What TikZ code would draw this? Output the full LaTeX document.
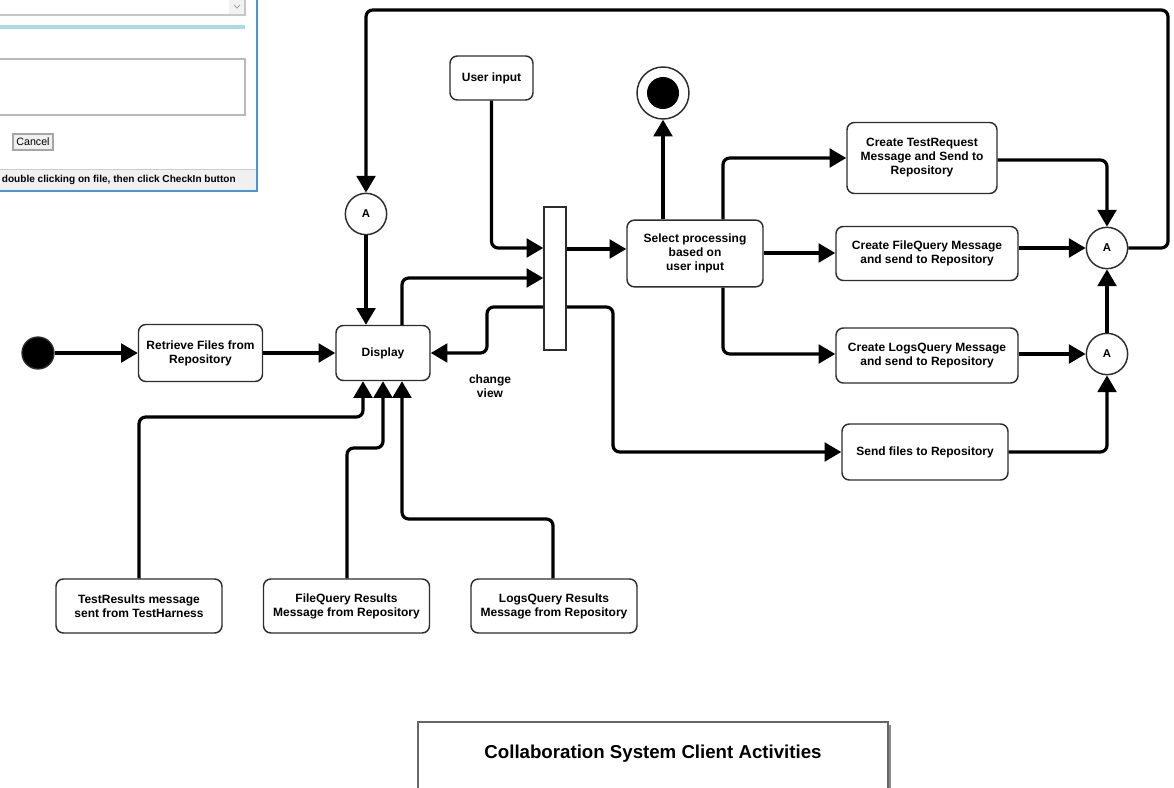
\documentclass[tikz,border=0pt]{standalone}
\usepackage{fontspec}
\setmainfont{Liberation Sans}
\usetikzlibrary{arrows.meta,calc}
\definecolor{winblue}{RGB}{70,150,215}
\definecolor{lightblue}{RGB}{173,216,230}
\definecolor{statusbg}{RGB}{240,240,240}
\definecolor{boxline}{RGB}{45,45,45}
\begin{document}
\begin{tikzpicture}[x=0.75pt,y=-0.75pt,
  box/.style={draw=boxline, line width=1.1pt, rounded corners=5.5pt, fill=white, align=center,
    font=\bfseries\fontsize{9}{10.5}\selectfont, inner sep=2pt},
  anode/.style={circle, draw=boxline, line width=1.1pt, fill=white, minimum size=31pt, inner sep=0pt,
    font=\bfseries\fontsize{8.5}{10}\selectfont},
  initn/.style={circle, draw=boxline, line width=1pt, fill=black, minimum size=24pt, inner sep=0pt},
  barn/.style={rectangle, draw=boxline, line width=1.1pt, fill=white, inner sep=0pt},
  conn/.style={line width=2.4pt, rounded corners=5pt, -{Triangle[length=12.5pt,width=14pt]}},
  lbl/.style={align=center, font=\bfseries\fontsize{9}{10.5}\selectfont}
]
\useasboundingbox (0,0) rectangle (1174,788);
\fill[white] (0,0) rectangle (1174,788);

% ---- dialog fragment (top left) ----
\fill[gray!10] (229,-2) rectangle (245,15);
\draw[gray!45, line width=0.9pt] (-3,-3) rectangle (245,15);
\draw[gray!70, line width=0.6pt] (234,5) -- (237,8) -- (240,5);
\fill[lightblue] (0,25) rectangle (245,29);
\draw[gray!55, line width=0.9pt] (-3,59) rectangle (245,115);
\draw[gray!70, line width=0.8pt, fill=gray!12] (13,134) rectangle (53,150);
\node[font=\fontsize{8}{9}\selectfont] (cancel) at (33,142) {Cancel};
\fill[statusbg] (-3,169) rectangle (257,191);
\draw[gray!40, line width=0.6pt] (-3,169) -- (257,169);
\node[anchor=east, inner sep=0pt, font=\bfseries\fontsize{7.55}{8.5}\selectfont] (status) at (236,180) {double clicking on file, then click CheckIn button};
\draw[winblue, line width=1.2pt] (-3,191) -- (257,191) -- (257,-3);

% ---- nodes ----
\node[initn] (init) at (38,353) {};
\node[box, minimum width=93pt, minimum height=42.75pt] (retr) at (200.5,353) {Retrieve Files from\\Repository};
\node[box, minimum width=70.5pt, minimum height=41.25pt] (disp) at (383,353) {Display};
\node[anode] (aL) at (366,214) {A};
\node[barn, minimum width=16.5pt, minimum height=107.25pt] (bar) at (555,278.5) {};
\node[box, minimum width=62.25pt, minimum height=33pt] (user) at (491.5,78) {User input};
\node[box, minimum width=102pt, minimum height=50pt] (sel) at (695,253.5) {Select processing\\based on\\user input};
\node[circle, draw=boxline, line width=1.1pt, fill=white, minimum size=39pt, inner sep=0pt] (final) at (663,93) {};
\node[circle, fill=black, minimum size=24pt, inner sep=0pt] (finalin) at (final.center) {};
\node[box, minimum width=112.5pt, minimum height=53.25pt] (treq) at (922,158) {Create TestRequest\\Message and Send to\\Repository};
\node[box, minimum width=136.5pt, minimum height=40.5pt] (fq) at (927,253.5) {Create FileQuery Message\\and send to Repository};
\node[box, minimum width=136.5pt, minimum height=41.25pt] (lq) at (927,355.5) {Create LogsQuery Message\\and send to Repository};
\node[box, minimum width=124.5pt, minimum height=42pt] (send) at (925,452) {Send files to Repository};
\node[anode] (aR1) at (1107,248) {A};
\node[anode] (aR2) at (1107,354) {A};
\node[box, minimum width=124.5pt, minimum height=40.5pt] (tr) at (139,606) {TestResults message\\sent from TestHarness};
\node[box, minimum width=124.5pt, minimum height=40.5pt] (fqr) at (346.5,606) {FileQuery Results\\Message from Repository};
\node[box, minimum width=124.5pt, minimum height=40.5pt] (lqr) at (554,606) {LogsQuery Results\\Message from Repository};
\node[lbl] (cv) at (490,386) {change\\view};

% title box
\fill[black!45] (421,725) rectangle (891,795);
\draw[black!60, line width=0.8pt, fill=white] (418,722) rectangle (888,795);
\node[font=\bfseries\fontsize{14}{16}\selectfont] (title) at (653,754) {Collaboration System Client Activities};

% ---- connectors ----
\draw[conn] (init) -- (retr);
\draw[conn] (retr) -- (disp);
\draw[conn] (aR1.east) -| (1168,10) -| (aL.north);
\draw[conn] (aL.south) -- (aL.south |- disp.north);
\draw[conn] (402,0 |- disp.north) |- (bar.west |- 0,278);
\draw[conn] (user.south) |- (bar.west |- 0,248);
\draw[conn] (bar.east |- 0,249) -- (sel.west |- 0,249);
\draw[conn] (bar.west |- 0,307) -| (487,0 |- disp.east) -- (disp.east);
\draw[conn] (bar.east |- 0,307) -| (613,0 |- send.west) -- (send.west);
\draw[conn] (663,0 |- sel.north) -- (final.south);
\draw[conn] (723,0 |- sel.north) |- (treq.west |- 0,158);
\draw[conn] (sel.east |- 0,253) -- (fq.west |- 0,253);
\draw[conn] (723,0 |- sel.south) |- (lq.west |- 0,354);
\draw[conn] (treq.east |- 0,160) -| (aR1.north);
\draw[conn] (fq.east |- 0,248) -- (aR1.west);
\draw[conn] (lq.east |- 0,354) -- (aR2.west);
\draw[conn] (aR2.north) -- (aR1.south);
\draw[conn] (send.east) -| (aR2.south);
\draw[conn] (tr.north) |- (363,417) -- (363,0 |- disp.south);
\draw[conn] (347,0 |- fqr.north) |- (383,448) -- (383,0 |- disp.south);
\draw[conn] (553,0 |- lqr.north) |- (402,519) -- (402,0 |- disp.south);

% redraw bar on top of crossing line
\node[barn, minimum width=16.5pt, minimum height=107.25pt] (bar2) at (bar.center) {};
\end{tikzpicture}
\end{document}
